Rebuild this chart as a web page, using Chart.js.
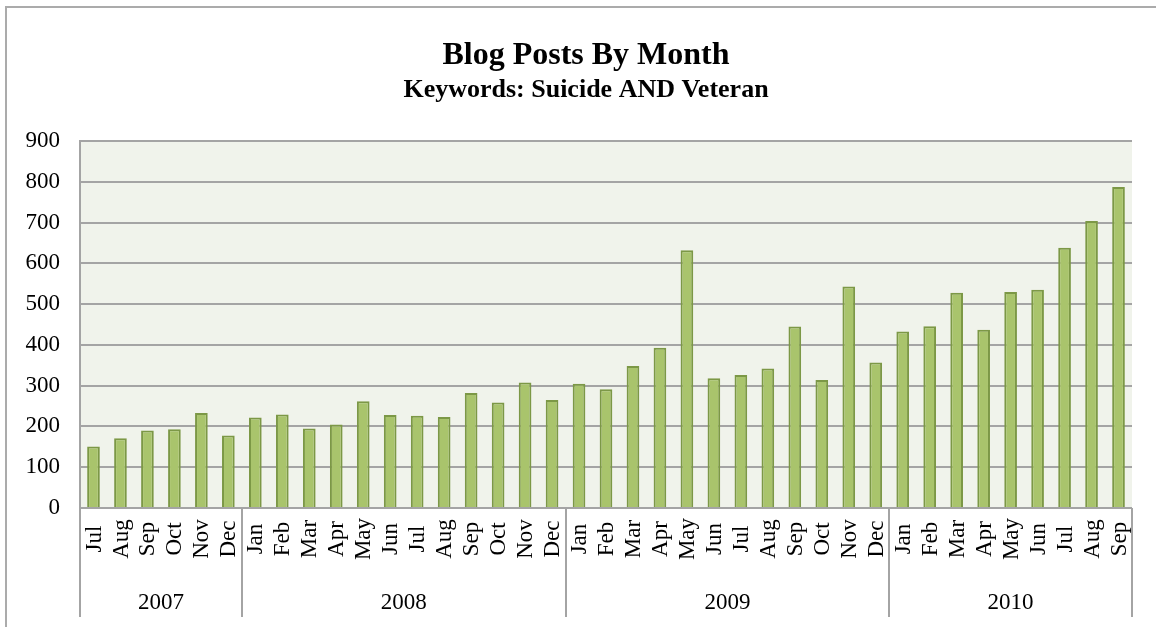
<!DOCTYPE html>
<html>
<head>
<meta charset="utf-8">
<title>Blog Posts By Month</title>
<script src="https://cdn.jsdelivr.net/npm/chart.js"></script>
<style>
    body {
        margin: 0;
        background: #ffffff;
        overflow: hidden;
    }
    #wrap {
        position: relative;
        width: 1156px;
        height: 627px;
    }
    #frame {
        position: absolute;
        left: 5px;
        top: 6px;
        width: 1200px;
        height: 700px;
        border-left: 2px solid #ababab;
        border-top: 2px solid #ababab;
    }
    #bar-chart {
        position: absolute;
        left: 0;
        top: 0;
    }
</style>
</head>
<body>
<div id="wrap">
    <div id="frame"></div>
    <canvas id="bar-chart" width="1156" height="627"></canvas>
</div>

<script>
// mesi e numero di post (lug 2007 - set 2010)
var months = [
    'Jul', 'Aug', 'Sep', 'Oct', 'Nov', 'Dec',
    'Jan', 'Feb', 'Mar', 'Apr', 'May', 'Jun', 'Jul', 'Aug', 'Sep', 'Oct', 'Nov', 'Dec',
    'Jan', 'Feb', 'Mar', 'Apr', 'May', 'Jun', 'Jul', 'Aug', 'Sep', 'Oct', 'Nov', 'Dec',
    'Jan', 'Feb', 'Mar', 'Apr', 'May', 'Jun', 'Jul', 'Aug', 'Sep'
];
var years = ['2007', '2008', '2009', '2010'];
var monthsPerYear = [6, 12, 12, 9];
var posts = [
    151, 171, 190, 193, 233, 178,
    222, 229, 195, 205, 262, 228, 226, 223, 282, 259, 308, 265,
    305, 291, 348, 393, 632, 318, 326, 342, 445, 314, 543, 357,
    433, 446, 528, 437, 530, 535, 638, 704, 787
];
var yTicks = [0, 100, 200, 300, 400, 500, 600, 700, 800, 900];

var chartTitle = 'Blog Posts By Month';
var chartSubtitle = 'Keywords: Suicide AND Veteran';

var serif = '"Liberation Serif", "Times New Roman", serif';
var gridColor = '#a4a4a4';

// sfondo dell'area del grafico
var plotBackground = {
    id: 'plotBackground',
    beforeDraw: function(chart) {
        var area = chart.chartArea;
        var ctx = chart.ctx;
        ctx.save();
        ctx.fillStyle = '#f0f3eb';
        ctx.fillRect(area.left, area.top, area.right - area.left, area.bottom - area.top);
        ctx.restore();
    }
};

// etichette mesi/anni sotto l'asse x + titoli
var groupedAxis = {
    id: 'groupedAxis',
    afterDraw: function(chart) {
        var ctx = chart.ctx;
        var xScale = chart.scales.x;
        var area = chart.chartArea;
        var step = (xScale.right - xScale.left) / months.length;

        ctx.save();
        ctx.fillStyle = '#000000';

        // mesi, ruotati
        ctx.font = '23px ' + serif;
        ctx.textAlign = 'center';
        ctx.textBaseline = 'middle';
        for (var i = 0; i < months.length; i++) {
            var x = xScale.getPixelForValue(i);
            ctx.save();
            ctx.translate(x + 1, area.bottom + 31);
            ctx.rotate(-Math.PI / 2);
            ctx.fillText(months[i], 0, 0);
            ctx.restore();
        }

        // separatori tra gli anni
        ctx.strokeStyle = gridColor;
        ctx.lineWidth = 2;
        var start = 0;
        var bounds = [0];
        for (var j = 0; j < monthsPerYear.length; j++) {
            start += monthsPerYear[j];
            bounds.push(start);
        }
        for (var k = 0; k < bounds.length; k++) {
            var bx = Math.round(xScale.left + bounds[k] * step);
            ctx.beginPath();
            ctx.moveTo(bx, area.bottom);
            ctx.lineTo(bx, area.bottom + 109);
            ctx.stroke();
        }

        // anni
        ctx.font = '23px ' + serif;
        for (var y = 0; y < years.length; y++) {
            var cx = xScale.left + (bounds[y] + bounds[y + 1]) / 2 * step;
            ctx.fillText(years[y], cx, area.bottom + 95);
        }

        // titolo e sottotitolo
        ctx.textBaseline = 'alphabetic';
        var tx = chart.width / 2 + 8;
        ctx.font = 'bold 32px ' + serif;
        ctx.fillText(chartTitle, tx, 64);
        ctx.font = 'bold 26px ' + serif;
        ctx.fillText(chartSubtitle, tx, 97);

        ctx.restore();
    }
};

function makeBarChart(labels, values) {
    var ctx = document.getElementById('bar-chart');
    var chart = new Chart(ctx, {

        type: 'bar',

        data: {
            labels: labels,
            datasets: [{
                label: 'Posts',
                data: values,
                backgroundColor: '#a9c46c',
                borderColor: '#7c9846',
                borderWidth: 2,
                barPercentage: 0.47,
                categoryPercentage: 1
            }]
        },

        options: {
            responsive: false,
            animation: false,
            layout: {
                padding: { top: 141, right: 24, bottom: 0, left: 0 }
            },
            plugins: {
                legend: { display: false },
                title: { display: false },
                tooltip: { enabled: false }
            },
            scales: {
                x: {
                    grid: { display: false },
                    border: { display: false },
                    ticks: { display: false },
                    afterFit: function(scale) {
                        scale.height = 119;
                    }
                },
                y: {
                    min: yTicks[0],
                    max: yTicks[yTicks.length - 1],
                    afterBuildTicks: function(scale) {
                        scale.ticks = yTicks.map(function(v) { return { value: v }; });
                    },
                    ticks: {
                        color: '#000000',
                        padding: 20,
                        font: { family: serif, size: 23 }
                    },
                    grid: {
                        color: gridColor,
                        lineWidth: 2,
                        drawTicks: false
                    },
                    border: {
                        color: gridColor,
                        width: 2
                    },
                    afterFit: function(scale) {
                        scale.width = 80;
                    }
                }
            }
        },
        plugins: [plotBackground, groupedAxis]
    });
    return chart;
}

makeBarChart(months, posts);
</script>
</body>
</html>
